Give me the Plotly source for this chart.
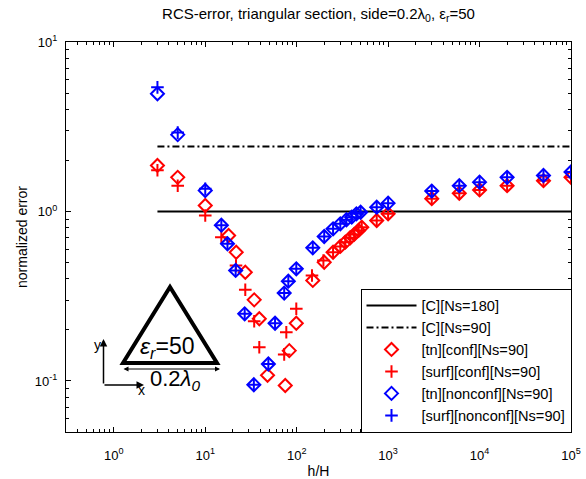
import numpy as np
import plotly.graph_objects as go

# ---------------- data ----------------
line_x = [3, 1e5]
c180_y = [1.0, 1.0]
c90_y = [2.42, 2.42]

red_tn_x = [3, 5, 10, 18, 21.8, 27.4, 34.3, 39, 48, 75, 83, 99, 150, 200, 250, 300, 340,
            385, 425, 475, 515, 750, 1000, 3000, 6000, 10000, 20000, 50000, 100000]
red_tn_y = [1.87, 1.59, 1.085, 0.722, 0.575, 0.438, 0.301, 0.233, 0.108, 0.094, 0.151, 0.219,
            0.392, 0.502, 0.575, 0.622, 0.659, 0.70, 0.732, 0.773, 0.808, 0.885, 0.969,
            1.19, 1.28, 1.34, 1.42, 1.52, 1.59]

red_surf_x = [3, 5, 10, 15, 21.7, 27.4, 34.3, 39, 73, 77, 99, 147, 196, 250, 300, 340, 385,
              425, 475, 515, 750, 1000, 3000, 6000, 10000, 20000, 50000, 100000]
red_surf_y = [1.75, 1.42, 0.947, 0.705, 0.48, 0.345, 0.225, 0.158, 0.1435, 0.194, 0.267, 0.419,
              0.514, 0.575, 0.622, 0.659, 0.70, 0.732, 0.773, 0.808, 0.885, 0.969, 1.19,
              1.28, 1.34, 1.42, 1.52, 1.59]

blue_tn_x = [3, 5, 10, 15, 17.5, 21.5, 27, 34, 49, 58, 73, 81, 99, 150, 200, 250, 300, 350,
             400, 450, 500, 750, 1000, 3000, 6000, 10000, 20000, 50000, 100000]
blue_tn_y = [4.95, 2.84, 1.33, 0.83, 0.645, 0.449, 0.249, 0.095, 0.126, 0.219, 0.33, 0.388,
             0.459, 0.61, 0.712, 0.79, 0.846, 0.894, 0.926, 0.969, 0.99, 1.06, 1.12, 1.32,
             1.42, 1.49, 1.59, 1.63, 1.71]

blue_surf_x = blue_tn_x
blue_surf_y = [5.4, 2.92, 1.36, 0.83, 0.645, 0.449, 0.249, 0.095, 0.126, 0.219, 0.33, 0.388,
               0.459, 0.61, 0.712, 0.79, 0.846, 0.894, 0.926, 0.969, 0.99, 1.06, 1.12, 1.32,
               1.42, 1.49, 1.59, 1.63, 1.71]

x_tickvals = [1, 10, 100, 1000, 10000, 100000]
x_ticktext = ["10<sup>0</sup>", "10<sup>1</sup>", "10<sup>2</sup>", "10<sup>3</sup>",
              "10<sup>4</sup>", "10<sup>5</sup>"]
y_tickvals = [0.1, 1, 10]
y_ticktext = ["10<sup>-1</sup>", "10<sup>0</sup>", "10<sup>1</sup>"]

# ---------------- figure ----------------
FONT = "Arial, Liberation Sans, Helvetica, sans-serif"
RED = "rgb(255,0,0)"
BLUE = "rgb(0,0,255)"

fig = go.Figure()
fig.add_trace(go.Scatter(x=line_x, y=c180_y, mode="lines", name="[C][Ns=180]",
                         line=dict(color="black", width=2)))
fig.add_trace(go.Scatter(x=line_x, y=c90_y, mode="lines", name="[C][Ns=90]",
                         line=dict(color="black", width=2, dash="7px,3px,2px,3px")))
fig.add_trace(go.Scatter(x=red_tn_x, y=red_tn_y, mode="markers", name="[tn][conf][Ns=90]",
                         marker=dict(symbol="diamond-open", size=10, color=RED,
                                     line=dict(width=2, color=RED))))
fig.add_trace(go.Scatter(x=red_surf_x, y=red_surf_y, mode="markers", name="[surf][conf][Ns=90]",
                         marker=dict(symbol="cross-thin-open", size=9, color=RED,
                                     line=dict(width=2, color=RED))))
fig.add_trace(go.Scatter(x=blue_tn_x, y=blue_tn_y, mode="markers", name="[tn][nonconf][Ns=90]",
                         marker=dict(symbol="diamond-open", size=10, color=BLUE,
                                     line=dict(width=2, color=BLUE))))
fig.add_trace(go.Scatter(x=blue_surf_x, y=blue_surf_y, mode="markers", name="[surf][nonconf][Ns=90]",
                         marker=dict(symbol="cross-thin-open", size=9, color=BLUE,
                                     line=dict(width=2, color=BLUE))))

def minor_vals(e0, e1):
    return [k * 10.0 ** e for e in range(e0, e1) for k in range(2, 10)]

axis_common = dict(type="log", showline=True, linecolor="black", linewidth=1, mirror="ticks",
                   ticks="inside", ticklen=5, tickcolor="black", showgrid=False, zeroline=False,
                   tickfont=dict(family=FONT, size=13, color="black"))

fig.update_xaxes(range=[np.log10(0.3), 5], tickmode="array", tickvals=x_tickvals,
                 ticktext=x_ticktext,
                 minor=dict(tickmode="array", tickvals=minor_vals(-1, 5), ticks="inside",
                            ticklen=3, tickcolor="black", showgrid=False),
                 title=dict(text="h/H", font=dict(family=FONT, size=14, color="black"), standoff=6),
                 ticklabelstandoff=11,
                 **axis_common)
fig.update_yaxes(range=[np.log10(0.05), 1], tickmode="array", tickvals=y_tickvals,
                 ticktext=y_ticktext,
                 minor=dict(tickmode="array", tickvals=minor_vals(-2, 1), ticks="inside",
                            ticklen=3, tickcolor="black", showgrid=False),
                 title=dict(text="normalized error", font=dict(family=FONT, size=14, color="black"),
                            standoff=3),
                 ticklabelstandoff=5,
                 **axis_common)

# inset sketch (decoration) in paper coordinates computed from pixels
L, R, T, B = 66, 15, 42, 47
W, H = 586 - L - R, 479 - T - B
def px(xp):
    return (xp - L) / W
def py(yp):
    return (479 - B - yp) / H

tri = [(123, 363), (217, 363), (170, 287)]
path = "M {} {} L {} {} L {} {} Z".format(px(tri[0][0]), py(tri[0][1]), px(tri[1][0]), py(tri[1][1]),
                                          px(tri[2][0]), py(tri[2][1]))
fig.add_shape(type="path", xref="paper", yref="paper", path=path,
              line=dict(color="black", width=4), fillcolor="rgba(0,0,0,0)")

def label(x, y, text, size):
    return dict(x=px(x), y=py(y), xref="paper", yref="paper", showarrow=False, text=text,
                xanchor="center", yanchor="middle", font=dict(family=FONT, size=size, color="black"))

anns = [
    label(166.5, 347, "<i>ε</i><sub><i>r</i></sub>=50", 23),
    label(175, 380, "0.2<i>λ</i><sub><i>0</i></sub>", 22),
    label(97, 345, "y", 14),
    label(141, 390, "x", 14),
    dict(x=px(220), y=py(369), xref="paper", yref="paper", ax=-98, ay=0, text="",
         showarrow=True, arrowhead=2, arrowside="end+start", arrowwidth=1, arrowsize=1,
         arrowcolor="black"),
    dict(x=px(103.5), y=py(339), xref="paper", yref="paper", ax=0, ay=46, text="",
         showarrow=True, arrowhead=2, arrowwidth=1.5, arrowsize=1, arrowcolor="black"),
    dict(x=px(144), y=py(385), xref="paper", yref="paper", ax=-41, ay=0, text="",
         showarrow=True, arrowhead=2, arrowwidth=1.5, arrowsize=1, arrowcolor="black"),
]

fig.update_layout(
    width=586, height=479,
    margin=dict(l=L, r=R, t=T, b=B, autoexpand=False),
    paper_bgcolor="white", plot_bgcolor="white",
    font=dict(family=FONT, size=14, color="black"),
    title=dict(text="RCS-error, triangular section, side=0.2λ<sub>0</sub>, ε<sub>r</sub>=50",
               x=px(318.5), xref="paper", xanchor="center", y=1 - 13.5 / 479, yref="container",
               yanchor="middle", font=dict(family=FONT, size=15, color="black")),
    legend=dict(x=px(571.5), y=py(432.5), xanchor="right", yanchor="bottom", bgcolor="white",
                bordercolor="black", borderwidth=1, font=dict(family=FONT, size=14.6, color="black"),
                itemwidth=50, tracegroupgap=0),
    showlegend=True,
    annotations=anns,
)

fig.write_html("out.html", config={"displayModeBar": False},
               post_script="document.body.style.margin='0px';document.body.style.padding='0px';"
                           "document.body.style.overflow='hidden';")
